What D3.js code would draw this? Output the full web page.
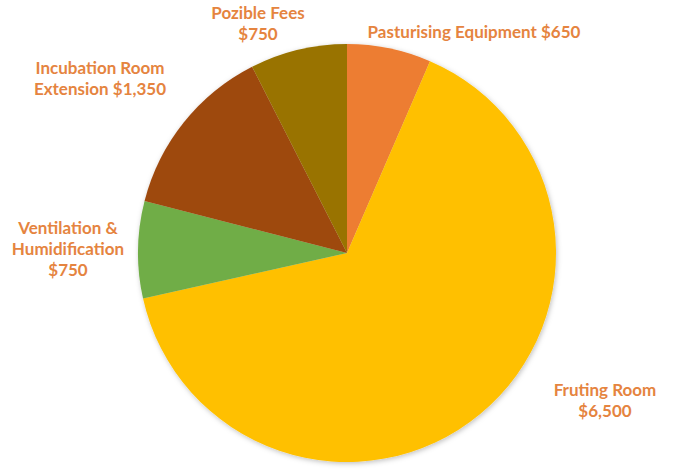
<!DOCTYPE html>
<html><head><meta charset="utf-8">
<script src="https://cdn.jsdelivr.net/npm/d3@7"></script>
<style>html,body{margin:0;padding:0;background:#fff;}</style>
</head><body>
<svg id="c" width="690" height="476"></svg>
<script>
const categories = ["Pasturising Equipment", "Fruting Room", "Ventilation & Humidification", "Incubation Room Extension", "Pozible Fees"];
const values = [650, 6500, 750, 1350, 750];
const colors = ["#ED7D31", "#FFC000", "#70AD47", "#9E480E", "#997300"];
const labelLines = [
  ["Pasturising Equipment $650"],
  ["Fruting Room", "$6,500"],
  ["Ventilation &", "Humidification", "$750"],
  ["Incubation Room", "Extension $1,350"],
  ["Pozible Fees", "$750"]
];
const labelPos = [[474, 32], [605, 390], [68, 228], [100, 68], [258, 13]];

const svg = d3.select("#c");
const cx = 347, cy = 253, r = 209;
const defs = svg.append("defs");
const f = defs.append("filter").attr("id","sh").attr("x","-10%").attr("y","-10%").attr("width","120%").attr("height","120%");
f.append("feDropShadow").attr("dx",1).attr("dy",1.5).attr("stdDeviation",2.5).attr("flood-color","#000").attr("flood-opacity",0.25);

const pie = d3.pie().sort(null).value(d => d)(values);
const arc = d3.arc().innerRadius(0).outerRadius(r);
const g = svg.append("g").attr("transform", `translate(${cx},${cy})`).attr("filter","url(#sh)");
g.selectAll("path").data(pie).join("path")
  .attr("d", arc).attr("fill", (d,i) => colors[i]);

const lg = svg.append("g");
labelLines.forEach((lines, i) => {
  const t = lg.append("text")
    .attr("x", labelPos[i][0]).attr("y", labelPos[i][1])
    .attr("text-anchor","middle")
    .attr("font-family","Lato, 'Open Sans', sans-serif")
    .attr("font-weight","bold").attr("font-size","17px")
    .attr("fill","#E5843F");
  lines.forEach((l, j) => {
    t.append("tspan").attr("x", labelPos[i][0]).attr("dy", j === 0 ? "0.35em" : "21px").text(l);
  });
});
</script>
</body></html>
